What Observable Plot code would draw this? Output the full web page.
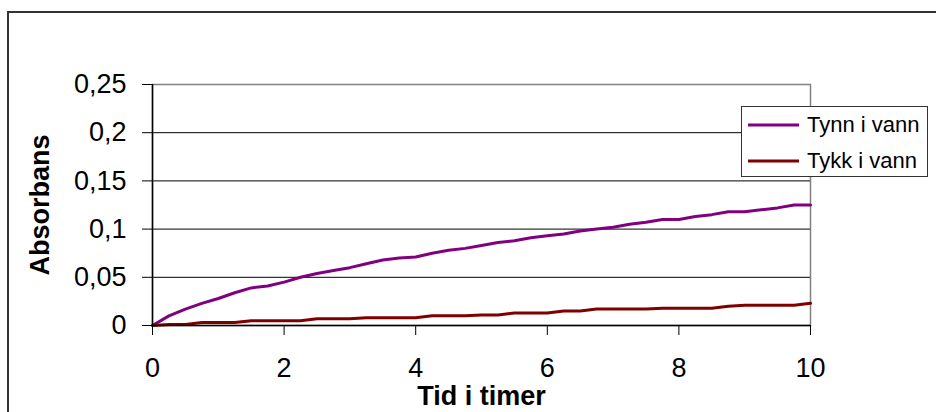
<!DOCTYPE html>
<html>
<head>
<meta charset="utf-8">
<script src="https://cdn.jsdelivr.net/npm/d3@7"></script>
<script src="https://cdn.jsdelivr.net/npm/@observablehq/plot@0.6"></script>
<style>
  html, body { margin: 0; padding: 0; background: #fff; }
  #chart { position: relative; width: 936px; height: 412px; overflow: hidden; font-family: "Liberation Sans", Arial, sans-serif; }
  #border { position: absolute; left: 7px; top: 11px; width: 940px; height: 420px; border: 2px solid #333; box-sizing: border-box; pointer-events: none; }
  #legend { position: absolute; left: 741px; top: 106px; width: 187px; height: 71px; border: 1px solid #333; box-sizing: border-box; background: #fff; }
  .item { position: absolute; left: 0; height: 30px; display: flex; align-items: center; font-size: 22px; color: #000; }
  .item svg { margin-left: 6px; margin-right: 8px; }
</style>
</head>
<body>
<div id="chart"><div id="border"></div></div>
<script>
// Time in hours, sampled every quarter hour
const hours = [0, 0.25, 0.5, 0.75, 1, 1.25, 1.5, 1.75, 2, 2.25, 2.5, 2.75, 3, 3.25, 3.5, 3.75, 4, 4.25, 4.5, 4.75, 5,
  5.25, 5.5, 5.75, 6, 6.25, 6.5, 6.75, 7, 7.25, 7.5, 7.75, 8, 8.25, 8.5, 8.75, 9, 9.25, 9.5, 9.75, 10];
// Absorbance, thin sample in water
const tynn = [0, 0.010, 0.017, 0.023, 0.028, 0.034, 0.039, 0.041, 0.045, 0.050, 0.054, 0.057, 0.060, 0.064, 0.068, 0.070, 0.071,
  0.075, 0.078, 0.080, 0.083, 0.086, 0.088, 0.091, 0.093, 0.095, 0.098, 0.100, 0.102, 0.105, 0.107, 0.110, 0.110,
  0.113, 0.115, 0.118, 0.118, 0.120, 0.122, 0.125, 0.125];
// Absorbance, thick sample in water
const tykk = [0, 0.001, 0.001, 0.003, 0.003, 0.003, 0.005, 0.005, 0.005, 0.005, 0.007, 0.007, 0.007, 0.008, 0.008, 0.008, 0.008,
  0.010, 0.010, 0.010, 0.011, 0.011, 0.013, 0.013, 0.013, 0.015, 0.015, 0.017, 0.017, 0.017, 0.017, 0.018, 0.018,
  0.018, 0.018, 0.020, 0.021, 0.021, 0.021, 0.021, 0.023];
const seriesNames = ["Tynn i vann", "Tykk i vann"];
const seriesColors = ["#800080", "#800000"];
const xTicks = [0, 2, 4, 6, 8, 10];
const yTicks = [0, 0.05, 0.1, 0.15, 0.2, 0.25];
const xTitle = "Tid i timer";
const yTitle = "Absorbans";

const rows = [
  ...hours.map((t, i) => ({t, v: tynn[i], s: seriesNames[0]})),
  ...hours.map((t, i) => ({t, v: tykk[i], s: seriesNames[1]}))
];
const comma = d => String(d).replace(".", ",");

const plot = Plot.plot({
  width: 936,
  height: 412,
  marginLeft: 152,
  marginRight: 126,
  marginTop: 84,
  marginBottom: 87,
  style: { fontFamily: "Liberation Sans, Arial, sans-serif", color: "#000", background: "transparent", overflow: "visible" },
  x: { domain: [0, 10] },
  y: { domain: [0, 0.25] },
  color: { domain: seriesNames, range: seriesColors },
  marks: [
    Plot.ruleY(yTicks.slice(1, -1), { stroke: "#000", strokeWidth: 1 }),
    Plot.frame({ stroke: "#808080", strokeWidth: 1.5 }),
    Plot.line(rows, { x: "t", y: "v", z: "s", stroke: "s", strokeWidth: 3, strokeLinejoin: "round" }),
    Plot.ruleX([0], { stroke: "#000", strokeWidth: 1.5 }),
    Plot.ruleY([0], { stroke: "#000", strokeWidth: 1.5 }),
    Plot.axisY({ ticks: yTicks, tickSize: 10, tickPadding: 16, tickFormat: comma, fontSize: 27, label: null }),
    Plot.axisX({ ticks: xTicks, tickSize: 10, tickPadding: 22, tickFormat: comma, fontSize: 27, label: null }),
    Plot.text([xTitle], { frameAnchor: "bottom", dy: 79, fontSize: 27, fontWeight: "bold", fill: "#000" }),
    Plot.text([yTitle], { frameAnchor: "left", textAnchor: "middle", dx: -112, rotate: -90, fontSize: 27, fontWeight: "bold", fill: "#000" })
  ]
});
const chart = document.getElementById("chart");
chart.insertBefore(plot, chart.firstChild);

// Legend box
const legend = document.createElement("div");
legend.id = "legend";
seriesNames.forEach((name, i) => {
  const item = document.createElement("div");
  item.className = "item";
  item.style.top = (i === 0 ? 3 : 39) + "px";
  item.innerHTML = `<svg width="51" height="4"><line x1="0" x2="51" y1="2" y2="2" stroke="${seriesColors[i]}" stroke-width="3"/></svg>`;
  const label = document.createElement("span");
  label.textContent = name;
  item.appendChild(label);
  legend.appendChild(item);
});
chart.appendChild(legend);
</script>
</body>
</html>
